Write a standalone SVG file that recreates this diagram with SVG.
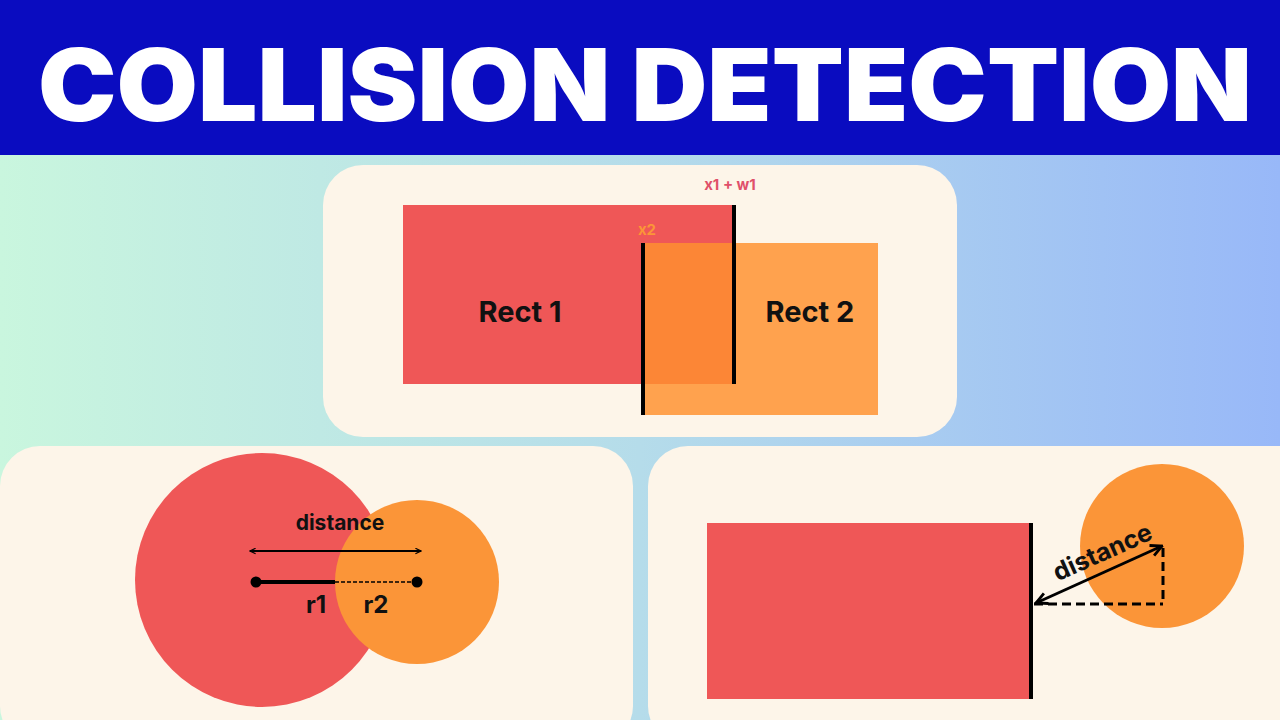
<svg xmlns="http://www.w3.org/2000/svg" width="1280" height="720" viewBox="0 0 1280 720">
<defs>
<linearGradient id="bg" x1="0" y1="0" x2="1" y2="0">
<stop offset="0" stop-color="#c9f6de"/><stop offset="0.5" stop-color="#b5dcea"/><stop offset="1" stop-color="#98b8f8"/>
</linearGradient>
<marker id="ah" viewBox="0 0 10 10" refX="9" refY="5" markerWidth="7" markerHeight="7" orient="auto-start-reverse" markerUnits="userSpaceOnUse">
<path d="M1,1 L9,5 L1,9" fill="none" stroke="#000" stroke-width="1.6"/>
</marker>
<marker id="ah2" viewBox="0 0 10 10" refX="9" refY="5" markerWidth="14" markerHeight="14" orient="auto-start-reverse" markerUnits="userSpaceOnUse">
<path d="M1,1 L9,5 L1,9" fill="none" stroke="#000" stroke-width="2"/>
</marker>
</defs>
<style>
.panel{fill:#fdf5e9}
.red{fill:#ef5757}
.org{fill:#fb9538}
.lbl{font-family:Inter,"Liberation Sans",sans-serif;font-weight:700;fill:#111}
.bar{stroke:#000;stroke-width:4}
</style>
<rect width="1280" height="720" fill="url(#bg)"/>
<rect width="1280" height="155" fill="#0a0cc0"/>
<text x="645" y="121" text-anchor="middle" font-family="Inter,'Liberation Sans',sans-serif" font-weight="900" font-size="100" fill="#fff" textLength="1214" lengthAdjust="spacingAndGlyphs">COLLISION DETECTION</text>

<g id="panel-rects">
<rect class="panel" x="323" y="165" width="634" height="272" rx="40"/>
<rect id="rect1" class="red" x="403" y="205" width="332" height="179"/>
<rect id="rect2" x="642" y="243" width="236" height="172" fill="#ffa24e"/>
<rect x="642" y="243" width="93" height="141" fill="#fc8636"/>
<line class="bar" x1="734" y1="205" x2="734" y2="384"/>
<line class="bar" x1="643" y1="243" x2="643" y2="415"/>
<text class="lbl" x="520" y="322" font-size="29" text-anchor="middle">Rect 1</text>
<text class="lbl" x="810" y="322" font-size="29" text-anchor="middle">Rect 2</text>
<text x="730" y="190" font-family="Inter,'Liberation Sans',sans-serif" font-weight="700" font-size="15" fill="#e0506a" text-anchor="middle">x1 + w1</text>
<text x="647" y="235" font-family="Inter,'Liberation Sans',sans-serif" font-weight="700" font-size="15" fill="#fb9538" text-anchor="middle">x2</text>
</g>

<g id="panel-circles">
<rect class="panel" x="0" y="446" width="633" height="300" rx="40"/>
<circle class="red" cx="262" cy="580" r="127"/>
<circle class="org" cx="417" cy="582" r="82"/>
<text class="lbl" x="340" y="530" font-size="21" text-anchor="middle">distance</text>
<line x1="250" y1="551" x2="421" y2="551" stroke="#000" stroke-width="2" marker-start="url(#ah)" marker-end="url(#ah)"/>
<line x1="256" y1="582" x2="335" y2="582" stroke="#000" stroke-width="4"/>
<line x1="335" y1="582" x2="417" y2="582" stroke="#000" stroke-width="1.5" stroke-dasharray="4 2"/>
<circle cx="256" cy="582" r="5.5" fill="#000"/>
<circle cx="417" cy="582" r="5.5" fill="#000"/>
<text class="lbl" x="316" y="613" font-size="24" text-anchor="middle">r1</text>
<text class="lbl" x="376" y="613" font-size="24" text-anchor="middle">r2</text>
</g>

<g id="panel-rect-circle">
<rect class="panel" x="648" y="446" width="680" height="300" rx="40"/>
<rect class="red" x="707" y="523" width="324" height="176"/>
<line class="bar" x1="1031" y1="523" x2="1031" y2="699"/>
<circle class="org" cx="1162" cy="546" r="82"/>
<line x1="1034" y1="604" x2="1163" y2="604" stroke="#000" stroke-width="3" stroke-dasharray="9 5"/>
<line x1="1163" y1="548" x2="1163" y2="604" stroke="#000" stroke-width="3" stroke-dasharray="9 5"/>
<line x1="1036" y1="603" x2="1162" y2="546" stroke="#000" stroke-width="3" marker-start="url(#ah2)" marker-end="url(#ah2)"/>
<text class="lbl" x="1106" y="560" font-size="25" text-anchor="middle" transform="rotate(-24 1106 560)">distance</text>
</g>
</svg>
